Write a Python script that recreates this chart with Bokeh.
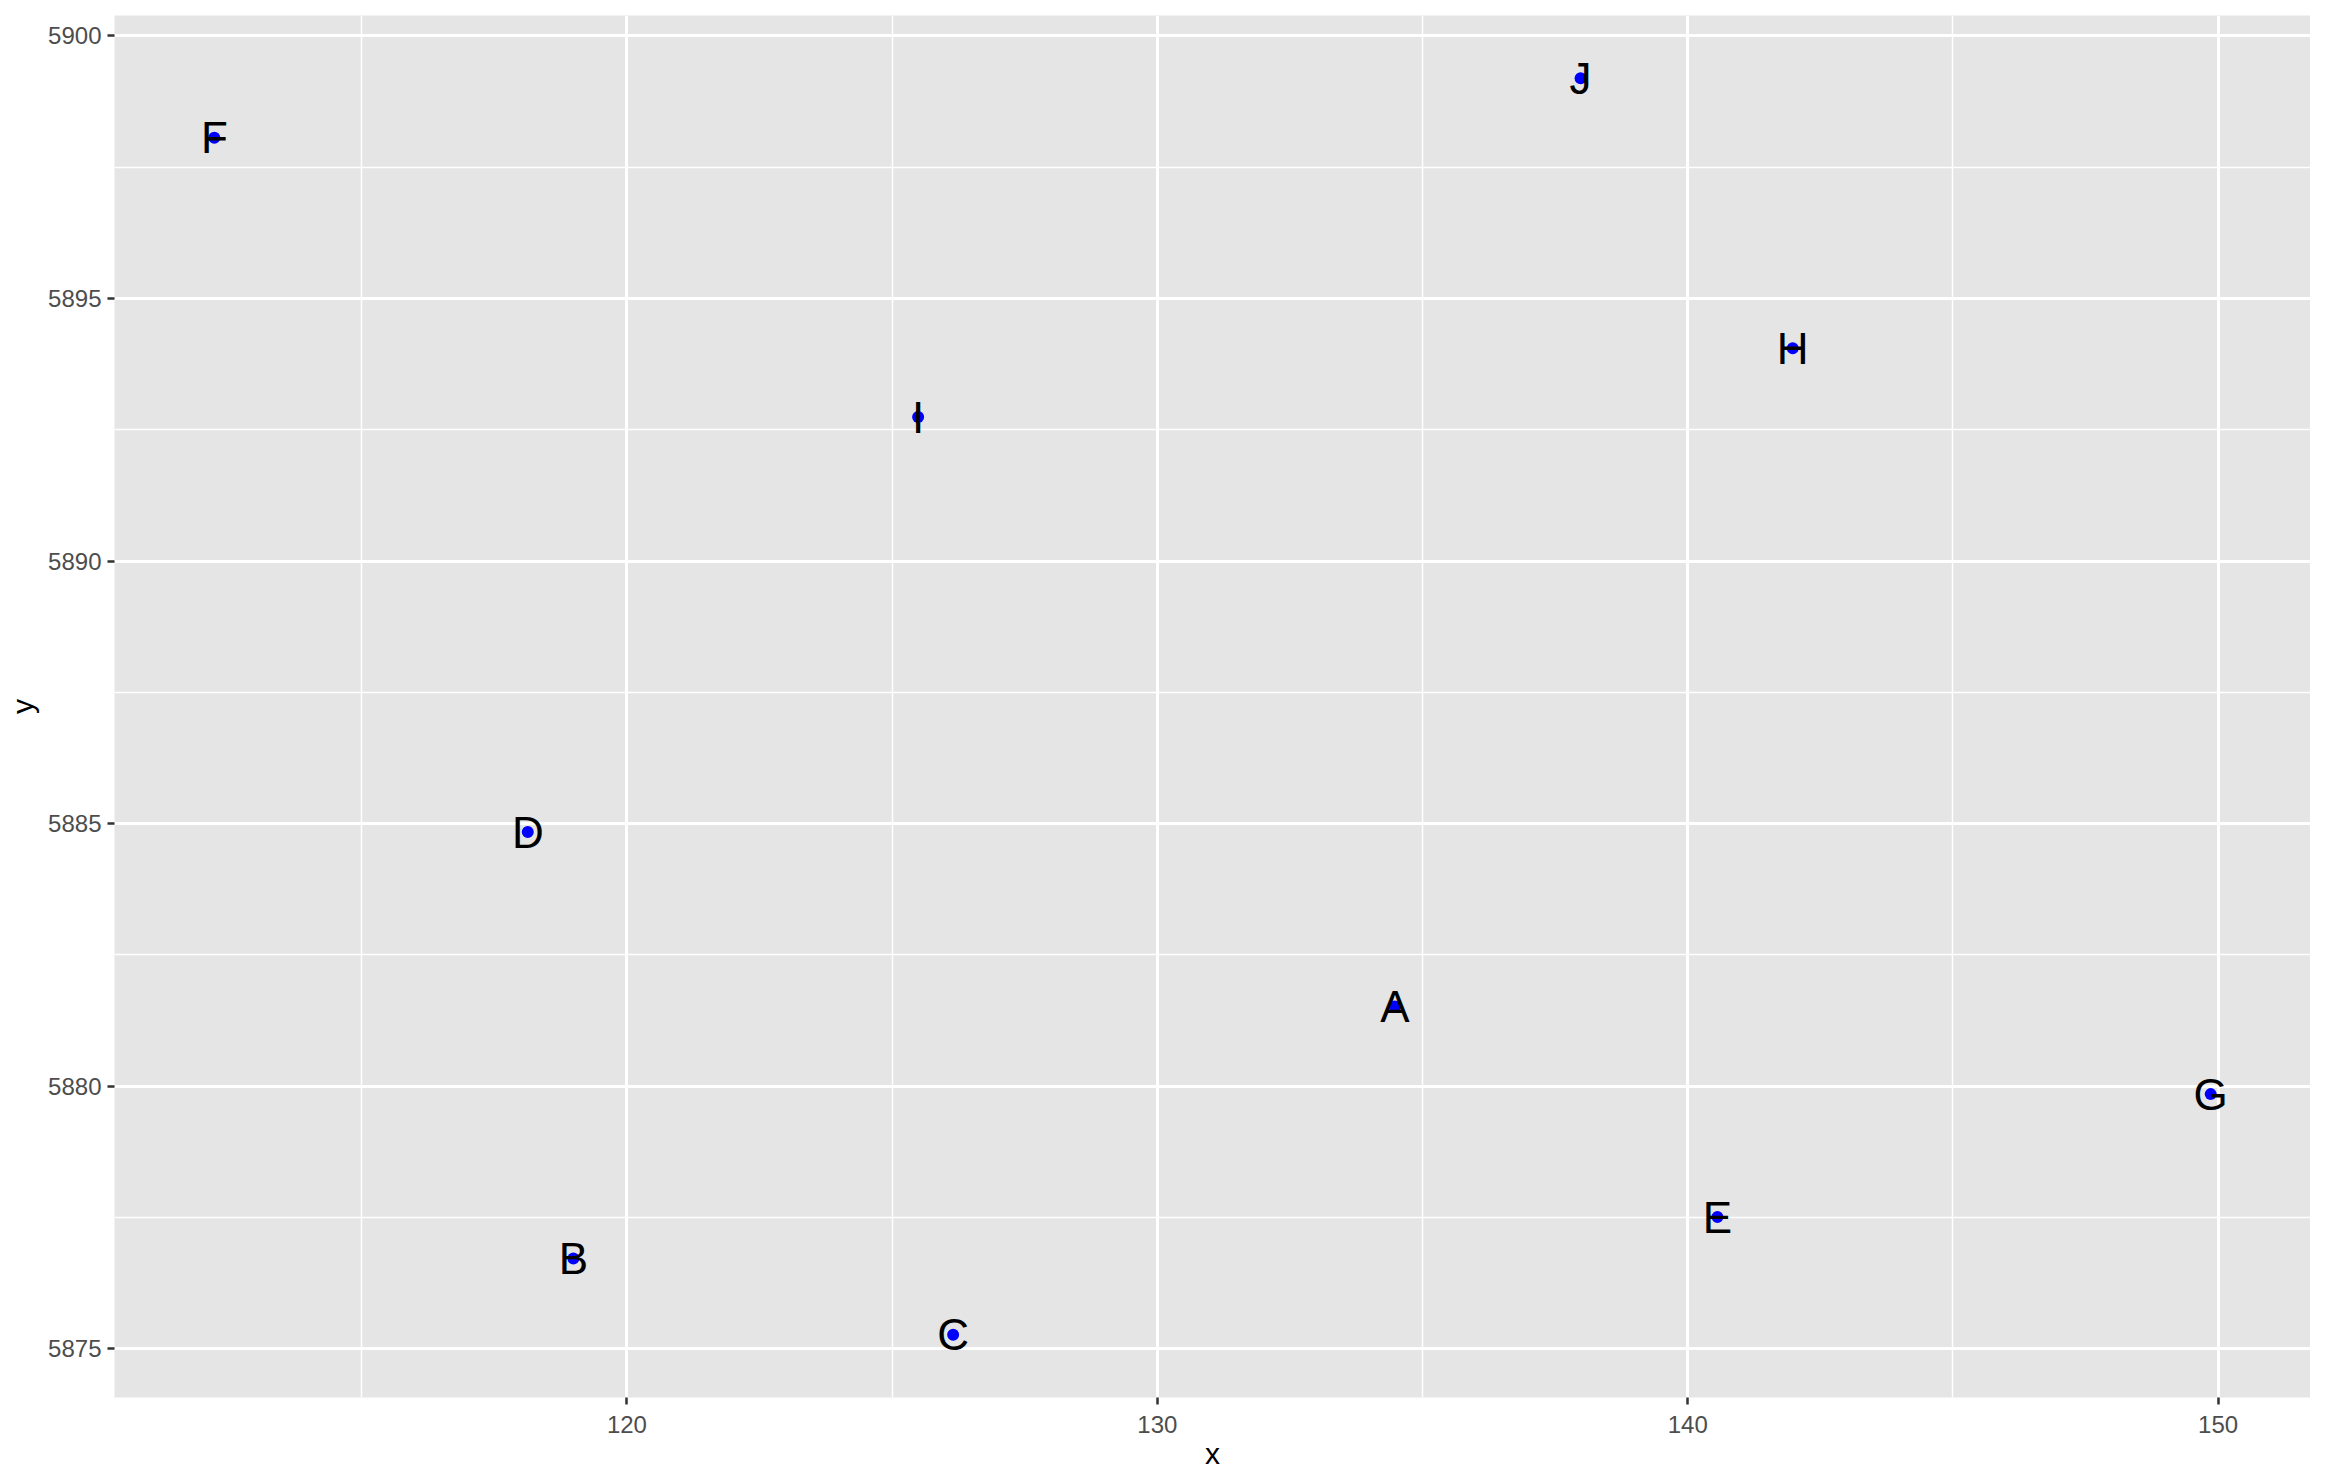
from bokeh.plotting import figure
from bokeh.models import ColumnDataSource, Range1d, SingleIntervalTicker
from bokeh.core.properties import value
from bokeh.embed import file_html
from bokeh.resources import INLINE

# ---- data ----
labels = ["A", "B", "C", "D", "E", "F", "G", "H", "I", "J"]
x_vals = [134.48, 118.99, 126.15, 118.13, 140.56, 112.22, 149.86, 141.98, 125.49, 137.98]
y_vals = [5881.52, 5876.72, 5875.27, 5884.84, 5877.51, 5898.06, 5879.85, 5894.05, 5892.74, 5899.19]

src = ColumnDataSource(dict(x=x_vals, y=y_vals, label=labels))

# ggplot-like 5% expansion
xr = max(x_vals) - min(x_vals)
yr = max(y_vals) - min(y_vals)
x_range = Range1d(min(x_vals) - 0.05 * xr, max(x_vals) + 0.05 * xr)
y_range = Range1d(min(y_vals) - 0.05 * yr, max(y_vals) + 0.05 * yr)

FONT = "Liberation Sans"

p = figure(
    frame_width=2196, frame_height=1382,
    x_range=x_range, y_range=y_range,
    output_backend="svg", toolbar_location=None,
    min_border_left=114, min_border_right=0, min_border_top=15, min_border_bottom=71,
    background_fill_color="#E5E5E5", border_fill_color="white",
)
p.outline_line_color = None

# axes
p.xaxis.ticker = SingleIntervalTicker(interval=10, num_minor_ticks=2)
p.yaxis.ticker = SingleIntervalTicker(interval=5, num_minor_ticks=2)
for ax in (p.xaxis, p.yaxis):
    ax.axis_line_color = None
    ax.major_tick_line_color = "#333333"
    ax.major_tick_line_width = 2.5
    ax.major_tick_out = 7
    ax.major_tick_in = 0
    ax.minor_tick_line_color = None
    ax.major_label_text_font = FONT
    ax.major_label_text_font_size = "24px"
    ax.major_label_text_color = "#4D4D4D"
    ax.axis_label_text_font = FONT
    ax.axis_label_text_font_size = "30px"
    ax.axis_label_text_font_style = "normal"
    ax.axis_label_text_color = "black"

p.xaxis.axis_label = "x"
p.yaxis.axis_label = "y"
p.xaxis.major_label_standoff = 11
p.yaxis.major_label_standoff = 6
p.xaxis.axis_label_standoff = 1
p.yaxis.axis_label_standoff = 6

# grid
for g in (p.xgrid, p.ygrid):
    g.grid_line_color = "white"
    g.grid_line_width = 3
    g.minor_grid_line_color = "white"
    g.minor_grid_line_width = 1.5

# points then labels
p.scatter("x", "y", source=src, size=12, color="#0000FF", line_color=None)
p.text("x", "y", text="label", source=src,
       text_font=value(FONT), text_font_size="44px", text_color="black",
       text_align="center", text_baseline="middle")

open("out.html", "w").write(file_html(p, INLINE))
